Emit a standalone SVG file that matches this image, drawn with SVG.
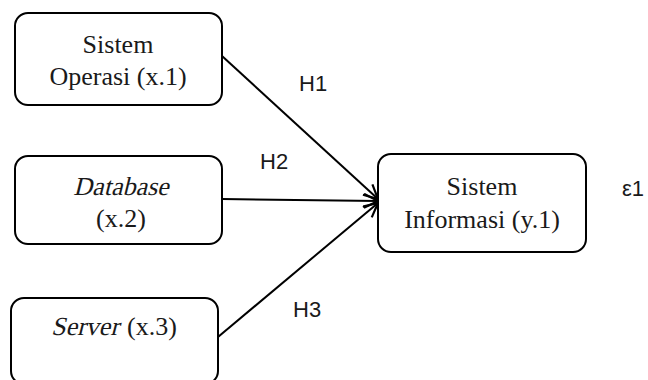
<svg xmlns="http://www.w3.org/2000/svg" width="648" height="380" viewBox="0 0 648 380">
<style>
.box{fill:#fff;stroke:#000;stroke-width:2}
.t{font-family:"Liberation Serif","Times New Roman",serif;font-size:26px;fill:#1a1a1a;text-anchor:middle}
.s{text-anchor:start}
.lbl{font-family:"Liberation Sans",Arial,sans-serif;font-size:22px;fill:#1a1a1a}
.c{stroke:#000;stroke-width:2;fill:none;marker-end:url(#ah)}
</style>
<defs>
<marker id="ah" viewBox="0 0 16 16" refX="15" refY="8" markerWidth="16" markerHeight="16" markerUnits="userSpaceOnUse" orient="auto">
<path d="M1,1 L15,8 L1,15" fill="none" stroke="#000" stroke-width="2.2"/>
</marker>
</defs>
<g id="connectors">
<line class="c" x1="222" y1="56" x2="378" y2="199"/>
<line class="c" x1="222" y1="199" x2="378" y2="201"/>
<line class="c" x1="218" y1="337" x2="378" y2="203"/>
</g>
<g id="node-x1">
<rect class="box" x="15" y="13" width="207" height="92" rx="13"/>
<text class="t" x="118" y="53">Sistem</text>
<text class="t" x="118" y="85">Operasi (x.1)</text>
</g>
<g id="node-x2">
<rect class="box" x="15" y="156" width="207" height="88" rx="13"/>
<text class="t" x="121" y="195" transform="translate(48.6,0) skewX(-14)">Database</text>
<text class="t" x="121" y="227">(x.2)</text>
</g>
<g id="node-x3">
<rect class="box" x="11" y="298" width="207" height="86" rx="13"/>
<text class="t s" x="51" y="335" transform="translate(83.5,0) skewX(-14)">Server</text>
<text class="t s" x="127" y="335">(x.3)</text>
</g>
<g id="node-y1">
<rect class="box" x="378" y="154" width="208" height="98" rx="13"/>
<text class="t" x="482" y="195">Sistem</text>
<text class="t" x="482" y="228">Informasi (y.1)</text>
</g>
<g id="labels">
<text class="lbl" x="299" y="91">H1</text>
<text class="lbl" x="260" y="169">H2</text>
<text class="lbl" x="293" y="317">H3</text>
<text class="lbl" x="622" y="196">ε1</text>
</g>
</svg>
